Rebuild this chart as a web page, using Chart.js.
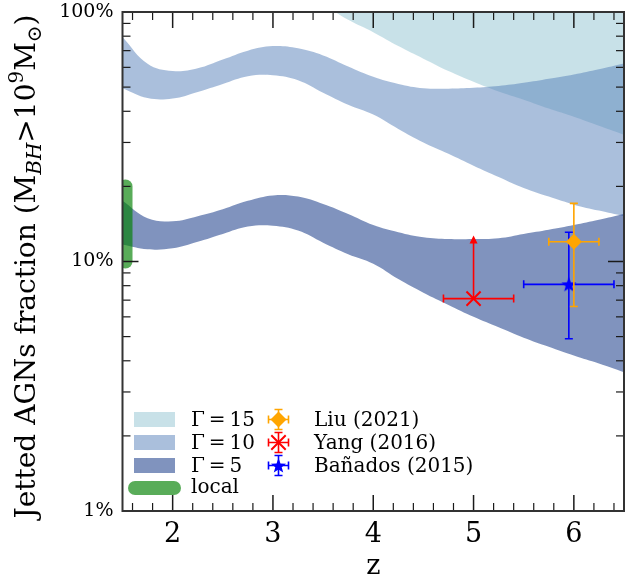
<!DOCTYPE html>
<html>
<head>
<meta charset="utf-8">
<script src="https://cdn.jsdelivr.net/npm/chart.js@4.4.0/dist/chart.umd.min.js"></script>
<style>
  html, body { margin: 0; padding: 0; background: #fff; }
</style>
</head>
<body>
<canvas id="c" width="638" height="583"></canvas>
<script>
// redshift grid of the model bands
const zGrid = [1.5, 1.75, 2.0, 2.25, 2.5, 2.75, 3.0, 3.25, 3.5, 3.75, 4.0, 4.25, 4.5, 4.75, 5.0, 5.25, 5.5, 5.75, 6.0, 6.25, 6.5];

// jetted fraction bands, in percent (lower / upper edge)
const g5Low   = [11.7, 11.2, 11.3, 12.0, 12.9, 13.8, 13.9, 13.3, 11.9, 10.7, 9.8, 8.5, 7.5, 6.7, 6.0, 5.45, 4.95, 4.55, 4.2, 3.9, 3.6];
const g5High  = [17.5, 14.9, 14.5, 15.2, 16.2, 17.5, 18.4, 18.2, 17.0, 15.5, 14.0, 13.1, 12.5, 12.3, 12.3, 12.4, 12.9, 13.4, 14.0, 14.7, 15.5];
const g10Low  = [49.5, 45.2, 45, 47.8, 51.5, 55.3, 55.8, 53.3, 47.5, 42.5, 38.8, 34, 30, 27, 24.2, 21.8, 19.7, 18.2, 16.9, 16, 15.2];
const g10High = [79.4, 62, 58, 59.5, 64.5, 70, 73, 71.5, 67, 60.5, 55, 51.5, 49.5, 49.3, 49.7, 50.5, 52, 54, 56.2, 59, 62.2];
const g15Low  = [110, 102, 101, 107, 116, 124, 126, 120, 107, 93, 83, 73, 65, 58, 52.5, 48, 44.5, 41, 38, 35, 32.2];
const g15High = [180, 142, 130, 135, 147, 160, 166, 164, 155, 142, 128, 119, 113, 110, 111, 114, 117, 121, 126, 133, 140];

const bandLabels = ['Γ\u2009=\u200915', 'Γ\u2009=\u200910', 'Γ\u2009=\u20095'];
const bandColors = ['rgba(145,195,209,0.5)', 'rgba(85,127,185,0.5)', 'rgba(1,39,125,0.5)'];

// local value
const localZ = [1.53, 1.53];
const localFrac = [10, 20];
const localColor = 'rgba(0,128,0,0.65)';

// observations
const obsLabels  = ['Liu (2021)', 'Yang (2016)', 'Bañados (2015)'];
const obsZ       = [6.0, 5.0, 5.95];
const obsFrac    = [12.0, 7.1, 8.1];
const obsZMin    = [5.75, 4.7, 5.5];
const obsZMax    = [6.25, 5.4, 6.4];
const obsFracMin = [6.6, null, 4.9];   // Yang (2016) is a lower limit
const obsFracMax = [17.1, 12.6, 13.1];
const obsColors  = ['orange', 'red', 'blue'];

const xTicks = [2, 3, 4, 5, 6];
const yTicks = [1, 10, 100];

const SERIF = '"DejaVu Serif", "Liberation Serif", serif';

function starPath(ctx, x, y, r) {
  ctx.beginPath();
  for (let i = 0; i < 10; i++) {
    const rr = i % 2 ? r * 0.42 : r;
    const a = -Math.PI / 2 + i * Math.PI / 5;
    ctx.lineTo(x + rr * Math.cos(a), y + rr * Math.sin(a));
  }
  ctx.closePath();
}

const starImg = document.createElement('canvas');
starImg.width = 18; starImg.height = 18;
{
  const c = starImg.getContext('2d');
  c.fillStyle = 'blue';
  starPath(c, 9, 9.6, 8);
  c.fill();
}

function drawMarker(ctx, i, x, y, r) {
  ctx.save();
  ctx.fillStyle = obsColors[i];
  ctx.strokeStyle = obsColors[i];
  if (i === 0) {
    ctx.beginPath();
    ctx.moveTo(x, y - r); ctx.lineTo(x + r, y); ctx.lineTo(x, y + r); ctx.lineTo(x - r, y);
    ctx.closePath(); ctx.fill();
  } else if (i === 1) {
    const d = r * 0.72;
    ctx.lineWidth = 2;
    ctx.beginPath();
    ctx.moveTo(x - d, y - d); ctx.lineTo(x + d, y + d);
    ctx.moveTo(x + d, y - d); ctx.lineTo(x - d, y + d);
    ctx.stroke();
  } else {
    starPath(ctx, x, y + 0.6, r);
    ctx.fill();
  }
  ctx.restore();
}

function bandSets(lo, hi, color, order) {
  const base = { borderWidth: 0, borderColor: 'rgba(0,0,0,0)', pointRadius: 0, tension: 0.4, order: order };
  return [
    Object.assign({ data: zGrid.map((v, i) => ({ x: v, y: hi[i] })), fill: false }, base),
    Object.assign({ data: zGrid.map((v, i) => ({ x: v, y: lo[i] })), fill: '-1', backgroundColor: color }, base)
  ];
}

const obsSets = obsZ.map((v, i) => ({
  obs: i,
  data: [{ x: v, y: obsFrac[i] }],
  showLine: false,
  order: -1,
  pointStyle: i === 0 ? 'rectRot' : i === 1 ? 'crossRot' : starImg,
  pointRadius: i === 0 ? 8 : i === 1 ? 10 : 8,
  pointBackgroundColor: obsColors[i],
  pointBorderColor: obsColors[i],
  pointBorderWidth: i === 1 ? 2 : 0
}));

// error bars, drawn just before each marker
const errorBars = {
  id: 'errorBars',
  beforeDatasetDraw(chart, args) {
    const ds = chart.data.datasets[args.index];
    if (ds.obs === undefined) return;
    const i = ds.obs;
    const { ctx, scales: { x, y } } = chart;
    const px = x.getPixelForValue(obsZ[i]), py = y.getPixelForValue(obsFrac[i]);
    const cap = 4;
    ctx.save();
    ctx.strokeStyle = obsColors[i];
    ctx.fillStyle = obsColors[i];
    ctx.lineWidth = 1.6;
    const x0 = x.getPixelForValue(obsZMin[i]), x1 = x.getPixelForValue(obsZMax[i]);
    ctx.beginPath();
    ctx.moveTo(x0, py); ctx.lineTo(x1, py);
    ctx.moveTo(x0, py - cap); ctx.lineTo(x0, py + cap);
    ctx.moveTo(x1, py - cap); ctx.lineTo(x1, py + cap);
    const yTop = y.getPixelForValue(obsFracMax[i]);
    if (obsFracMin[i] !== null) {
      const yBot = y.getPixelForValue(obsFracMin[i]);
      ctx.moveTo(px, yBot); ctx.lineTo(px, yTop);
      ctx.moveTo(px - cap, yTop); ctx.lineTo(px + cap, yTop);
      ctx.moveTo(px - cap, yBot); ctx.lineTo(px + cap, yBot);
      ctx.stroke();
    } else {
      ctx.moveTo(px, py); ctx.lineTo(px, yTop + 6);
      ctx.stroke();
      ctx.beginPath();
      ctx.moveTo(px, yTop - 1); ctx.lineTo(px + 4, yTop + 7); ctx.lineTo(px - 4, yTop + 7);
      ctx.closePath(); ctx.fill();
    }
    ctx.restore();
  }
};

// frame with inward ticks on all sides, y title, legend
const decorations = {
  id: 'decorations',
  afterDraw(chart) {
    const { ctx, chartArea: a, scales: { x, y } } = chart;
    ctx.save();
    ctx.strokeStyle = '#1a1a1a';
    const tick = (x0, y0, dx, dy, w) => {
      ctx.lineWidth = w;
      ctx.beginPath(); ctx.moveTo(x0, y0); ctx.lineTo(x0 + dx, y0 + dy); ctx.stroke();
    };
    for (let k = 16; k <= 64; k += 2) {
      const v = k / 10;
      const major = k % 10 === 0;
      const len = major ? 16 : 8;
      const px = x.getPixelForValue(v);
      tick(px, a.bottom, 0, -len, major ? 1.5 : 1.2);
      tick(px, a.top, 0, len, major ? 1.5 : 1.2);
    }
    for (let d = 1; d <= 10; d *= 10) {
      for (let m = 1; m <= 10; m++) {
        const v = d * m;
        if (v > 100 || (m === 10 && d === 1)) continue;
        const major = m === 1 || m === 10;
        const len = major ? 16 : 8;
        const py = y.getPixelForValue(v);
        tick(a.left, py, len, 0, major ? 1.5 : 1.2);
        tick(a.right, py, -len, 0, major ? 1.5 : 1.2);
      }
    }
    ctx.strokeStyle = '#333';
    ctx.lineWidth = 2;
    ctx.strokeRect(a.left, a.top, a.right - a.left, a.bottom - a.top);
    ctx.restore();

    // y axis title with sub/superscripts
    const fs = 28;
    const parts = [
      { t: 'Jetted AGNs fraction (M', s: 1, dy: 0, it: false },
      { t: 'BH', s: 0.7, dy: 0.22, it: true },
      { t: '>10', s: 1, dy: 0, it: false },
      { t: '9', s: 0.7, dy: -0.42, it: false },
      { t: 'M', s: 1, dy: 0, it: false },
      { t: '⊙', s: 0.7, dy: 0.22, it: false },
      { t: ')', s: 1, dy: 0, it: false }
    ];
    ctx.save();
    ctx.fillStyle = '#000';
    ctx.textBaseline = 'alphabetic';
    ctx.textAlign = 'left';
    let total = 0;
    parts.forEach(p => {
      ctx.font = (p.it ? 'italic ' : '') + Math.round(fs * p.s) + 'px ' + SERIF;
      p.w = ctx.measureText(p.t).width;
      total += p.w;
    });
    ctx.translate(35, (a.top + a.bottom) / 2 + 5);
    ctx.rotate(-Math.PI / 2);
    let cx = -total / 2;
    parts.forEach(p => {
      ctx.font = (p.it ? 'italic ' : '') + Math.round(fs * p.s) + 'px ' + SERIF;
      ctx.fillText(p.t, cx, p.dy * fs);
      cx += p.w;
    });
    ctx.restore();

    // legend
    ctx.save();
    ctx.font = '20px ' + SERIF;
    ctx.textBaseline = 'middle';
    ctx.fillStyle = '#000';
    const rows = [419.5, 442.5, 465.5, 488];
    bandLabels.forEach((lab, i) => {
      ctx.fillStyle = bandColors[i];
      ctx.fillRect(134, rows[i] - 7.5, 41, 15);
      ctx.fillStyle = '#000';
      ctx.fillText(lab, 191, rows[i] + 1);
    });
    ctx.strokeStyle = localColor;
    ctx.lineWidth = 14;
    ctx.lineCap = 'round';
    ctx.beginPath(); ctx.moveTo(135, rows[3]); ctx.lineTo(174, rows[3]); ctx.stroke();
    ctx.fillStyle = '#000';
    ctx.fillText('local', 191, rows[3]);
    const mx = 278.5;
    obsLabels.forEach((lab, i) => {
      const my = rows[i];
      ctx.strokeStyle = obsColors[i];
      ctx.lineWidth = 1.6;
      ctx.lineCap = 'butt';
      ctx.beginPath();
      ctx.moveTo(mx - 10, my); ctx.lineTo(mx + 10, my);
      ctx.moveTo(mx - 10, my - 4); ctx.lineTo(mx - 10, my + 4);
      ctx.moveTo(mx + 10, my - 4); ctx.lineTo(mx + 10, my + 4);
      ctx.moveTo(mx, my - 10); ctx.lineTo(mx, my + 10);
      ctx.moveTo(mx - 4, my - 10); ctx.lineTo(mx + 4, my - 10);
      ctx.moveTo(mx - 4, my + 10); ctx.lineTo(mx + 4, my + 10);
      ctx.stroke();
      drawMarker(ctx, i, mx, my, i === 1 ? 10 : 8);
      ctx.fillStyle = '#000';
      ctx.fillText(lab, 314, my + 1);
    });
    ctx.restore();
  }
};

const datasets = [].concat(
  bandSets(g15Low, g15High, bandColors[0], 3),
  bandSets(g10Low, g10High, bandColors[1], 2),
  bandSets(g5Low, g5High, bandColors[2], 1),
  [{
    data: localZ.map((v, i) => ({ x: v, y: localFrac[i] })),
    borderColor: localColor,
    borderWidth: 14,
    borderCapStyle: 'round',
    pointRadius: 0,
    fill: false,
    clip: 0,
    order: 0
  }],
  obsSets
);

new Chart(document.getElementById('c'), {
  type: 'line',
  data: { datasets: datasets },
  options: {
    responsive: false,
    animation: false,
    devicePixelRatio: 1,
    events: [],
    layout: { padding: { top: 10, right: 14, left: 0, bottom: 0 } },
    plugins: { legend: { display: false }, tooltip: { enabled: false } },
    scales: {
      x: {
        type: 'linear',
        min: 1.5,
        max: 6.5,
        grid: { display: false, drawTicks: false },
        border: { display: false },
        afterBuildTicks: s => { s.ticks = xTicks.map(v => ({ value: v })); },
        afterFit: s => { s.height = 72; s.paddingLeft = 0; s.paddingRight = 0; },
        ticks: { padding: 8, color: '#000', font: { family: SERIF, size: 27 }, maxRotation: 0 },
        title: { display: true, text: 'z', color: '#000', font: { family: SERIF, size: 27 }, padding: { top: 0, bottom: 0 } }
      },
      y: {
        type: 'logarithmic',
        min: 1,
        max: 100,
        grid: { display: false, drawTicks: false },
        border: { display: false },
        afterBuildTicks: s => { s.ticks = yTicks.map(v => ({ value: v })); },
        afterFit: s => { s.width = 122.5; s.paddingTop = 0; s.paddingBottom = 0; },
        ticks: { padding: 9, color: '#000', font: { family: SERIF, size: 19 }, callback: v => v + '%' }
      }
    }
  },
  plugins: [errorBars, decorations]
});
</script>
</body>
</html>
